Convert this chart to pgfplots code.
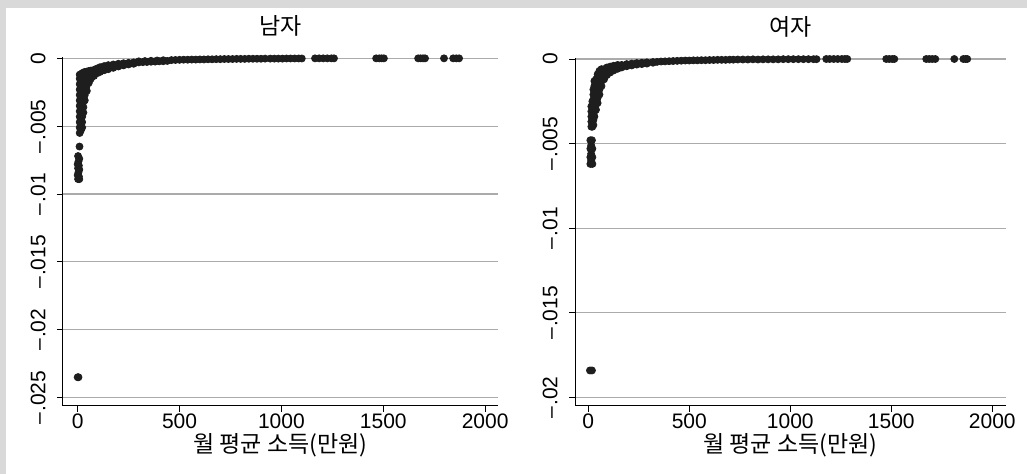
\documentclass[border=0pt]{standalone}
\usepackage{fontspec}
\setmainfont{Liberation Sans}
\newfontfamily\kr{Noto Sans CJK KR}
\usepackage{pgfplots}
\usepackage{pgfplotstable}
\pgfplotsset{compat=1.18}

\definecolor{bggray}{HTML}{D9D9D9}
\definecolor{gridgray}{HTML}{ABABAB}
\definecolor{mk}{HTML}{1E1E1E}

% male: marginal effect by monthly income
\pgfplotstableread{
x y
0 -0.0235
4 -0.0235
9 -0.0065
2 -0.0072
8 -0.0074
4 -0.0076
0 -0.0078
6 -0.0079
2 -0.0081
8 -0.0082
4 -0.0084
0 -0.0086
6 -0.0087
2 -0.0089
8 -0.0089
10 -0.0055
10 -0.0051
10 -0.0047
10 -0.0043
10 -0.0039
10 -0.0035
10 -0.0031
10 -0.0027
10 -0.0023
10 -0.0019
10 -0.0015
10 -0.0012
16 -0.0053
16 -0.0049
16 -0.0045
16 -0.0041
16 -0.0037
16 -0.0033
16 -0.0029
16 -0.0025
16 -0.0021
16 -0.0017
16 -0.0013
22 -0.0051
22 -0.0047
22 -0.0043
22 -0.0039
22 -0.0035
22 -0.0031
22 -0.0027
22 -0.0023
22 -0.0019
22 -0.0015
22 -0.0011
28 -0.0040
28 -0.0036
28 -0.0032
28 -0.0028
28 -0.0024
28 -0.0020
28 -0.0016
28 -0.00125
28 -0.00105
35 -0.0031
35 -0.0027
35 -0.0023
35 -0.0019
35 -0.0015
35 -0.0012
35 -0.0010
45 -0.0024
45 -0.0020
45 -0.0016
45 -0.0013
45 -0.00098
55 -0.0018
55 -0.0015
55 -0.0012
55 -0.00093
65 -0.0015
65 -0.0012
65 -0.0009
80 -0.0013
80 -0.00105
80 -0.00085
95 -0.0011
95 -0.0009
95 -0.00075
110 -0.0010
110 -0.0008
110 -0.00065
130 -0.00088
130 -0.0007
130 -0.00057
150 -0.0008
150 -0.00064
150 -0.0005
175 -0.0007
175 -0.00055
175 -0.00045
200 -0.0006
200 -0.00048
200 -0.0004
225 -0.00052
225 -0.00042
225 -0.00036
250 -0.00045
250 -0.00037
250 -0.00033
275 -0.0004
275 -0.00033
275 -0.0003
300 -0.0003
320 -0.00028
340 -0.00027
360 -0.00025
380 -0.00024
400 -0.00022
420 -0.00021
440 -0.00019
300 -0.00022
330 -0.0002
360 -0.00018
390 -0.00016
420 -0.00014
460 -0.00013
480 -0.00012
500 -0.00011
520 -0.0001
540 -0.0001
560 -0.00009
580 -0.00009
600 -0.00008
620 -0.00008
640 -0.00007
660 -0.00007
680 -0.00006
700 -0.00006
720 -0.00005
740 -0.00005
760 -0.00005
780 -0.00004
800 -0.00004
820 -0.00004
840 -0.00003
860 -0.00003
880 -0.00003
900 -0.00003
920 -0.00002
945 -0.00002
965 -0.00002
985 -0.00002
1005 -0.00002
1025 -0.00001
1045 -0.00001
1065 -0.00001
1085 -0.00001
1100 -0.00001
1165 0
1185 0
1205 0
1225 0
1245 0
1258 0
1465 0
1480 0
1492 0
1503 0
1671 0
1683 0
1695 0
1705 0
1798 0
1843 0
1858 0
1872 0
}\malepts

% female
\pgfplotstableread{
x y
8 -0.0184
18 -0.0184
10 -0.0048
18 -0.0048
14 -0.0051
10 -0.0053
20 -0.0053
14 -0.0056
10 -0.0058
20 -0.0058
14 -0.0060
10 -0.0062
20 -0.0062
15 -0.0040
15 -0.0037
15 -0.0034
15 -0.0031
15 -0.0028
20 -0.0040
20 -0.0037
20 -0.0034
20 -0.0031
20 -0.0028
20 -0.0025
25 -0.0039
25 -0.0036
25 -0.0033
25 -0.0030
25 -0.0027
25 -0.0024
25 -0.0021
25 -0.0018
30 -0.0034
30 -0.0031
30 -0.0028
30 -0.0025
30 -0.0022
30 -0.0019
30 -0.0016
30 -0.0013
38 -0.0030
38 -0.0027
38 -0.0024
38 -0.0021
38 -0.0018
38 -0.0015
38 -0.0012
46 -0.0026
46 -0.0023
46 -0.0020
46 -0.0017
46 -0.0014
46 -0.0011
46 -0.0009
55 -0.0021
55 -0.0018
55 -0.0015
55 -0.0012
55 -0.0009
55 -0.0007
65 -0.0016
65 -0.0013
65 -0.0010
65 -0.0008
65 -0.0006
78 -0.0012
78 -0.0010
78 -0.0008
78 -0.0006
92 -0.00095
92 -0.00078
92 -0.00062
92 -0.0005
108 -0.0008
108 -0.00065
108 -0.00052
108 -0.00045
125 -0.00068
125 -0.00055
125 -0.00045
125 -0.0004
145 -0.00058
145 -0.00048
145 -0.0004
145 -0.00035
165 -0.0005
165 -0.00042
165 -0.00035
190 -0.00043
190 -0.00036
190 -0.0003
215 -0.00038
215 -0.00032
215 -0.00027
240 -0.00033
240 -0.00028
240 -0.00024
265 -0.0003
265 -0.00025
265 -0.00022
290 -0.00027
290 -0.00022
290 -0.0002
320 -0.00022
320 -0.00018
340 -0.00017
360 -0.00015
380 -0.00014
400 -0.00013
420 -0.00012
440 -0.00011
460 -0.0001
480 -0.00009
500 -0.00009
520 -0.00008
540 -0.00008
560 -0.00007
580 -0.00007
600 -0.00006
620 -0.00006
640 -0.00005
660 -0.00005
680 -0.00005
700 -0.00004
718 -0.00004
740 -0.00003
765 -0.00003
790 -0.00003
815 -0.00002
840 -0.00003
865 -0.00002
890 -0.00002
915 -0.00002
940 -0.00002
965 -0.00001
990 -0.00001
1015 -0.00001
1040 -0.00001
1065 -0.00001
1090 -0.00001
1115 -0.00001
1130 -0.00001
1178 0
1195 0
1215 0
1235 0
1255 0
1270 0
1282 0
1475 0
1490 0
1505 0
1515 0
1673 0
1688 0
1703 0
1718 0
1812 0
1857 0
1868 0
1876 0
}\femalepts

\newcommand{\mn}{–\kern0.6pt}

\pgfplotsset{
  statapanel/.style={
    scale only axis,
    anchor=south west,
    clip=false,
    scaled ticks=false,
    axis x line*=bottom,
    axis y line*=left,
    axis line style={black, line width=0.5pt},
    tick align=outside,
    major tick length=3pt,
    tick style={black, line width=0.5pt},
    ymajorgrids,
    grid style={gridgray, line width=0.6pt},
    xtick={0,500,1000,1500,2000},
    xticklabels={0,500,1000,1500,2000},
    xticklabel style={font=\fontsize{10.5}{10.5}\selectfont, anchor=north, inner sep=0pt},
    xticklabel shift=0.5pt,
    yticklabel style={font=\fontsize{10.5}{10.5}\selectfont, rotate=90, anchor=south, inner sep=0pt},
    yticklabel shift=5.5pt,
    title style={font=\kr\fontsize{11.5}{11.5}\selectfont, at={(axis description cs:0.5,1)}, anchor=base, yshift=5pt},
    xlabel={\kr 월 평균 소득(만원)},
    xlabel style={font=\kr\fontsize{11.5}{11.5}\selectfont, at={(axis description cs:0.5,0)}, anchor=base, yshift=-23.5pt},
  },
  statamarks/.style={only marks, mark=*, mark size=1.75pt, color=mk, mark options={draw=mk, fill=mk}},
}

\begin{document}
\begin{tikzpicture}
\fill[bggray] (0,0) rectangle (513.5pt,237pt);
\path[use as bounding box] (0,0) rectangle (513.5pt,237pt);
\fill[white] (3pt,0) rectangle (513.5pt,233pt);

\begin{axis}[statapanel,
  at={(31.5pt,34pt)}, width=217.5pt, height=174.5pt,
  title={남자},
  xmin=-72, xmax=2063, ymin=-0.02562, ymax=0.0001,
  ytick={-0.025,-0.02,-0.015,-0.01,-0.005,0},
  yticklabels={\mn.025,\mn.02,\mn.015,\mn.01,\mn.005,0},
]
\addplot[statamarks] table[x=x, y=y] {\malepts};
\end{axis}

\begin{axis}[statapanel,
  at={(287.5pt,34pt)}, width=215.5pt, height=174pt,
  title={여자},
  xmin=-66, xmax=2068, ymin=-0.0205, ymax=0.00006,
  ytick={-0.02,-0.015,-0.01,-0.005,0},
  yticklabels={\mn.02,\mn.015,\mn.01,\mn.005,0},
]
\addplot[statamarks] table[x=x, y=y] {\femalepts};
\end{axis}
\end{tikzpicture}
\end{document}
